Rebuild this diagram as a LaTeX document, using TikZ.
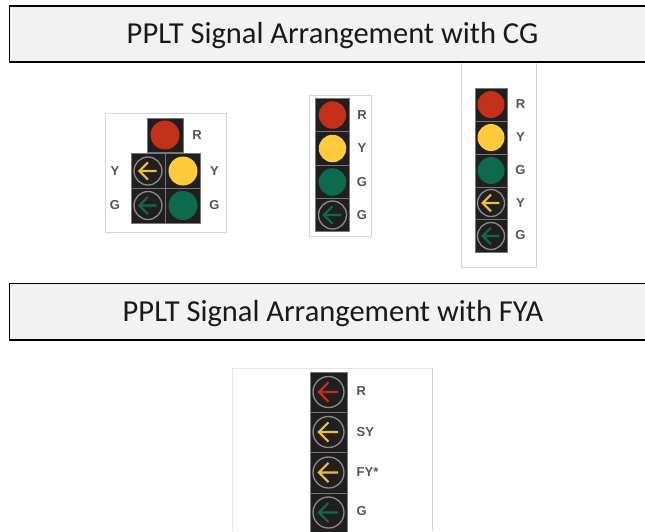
\documentclass[tikz,border=0pt]{standalone}
\usepackage{fontspec}
\setmainfont{Carlito}
\newfontfamily\signalfont{Liberation Sans}
\usepackage{tikz}
\usetikzlibrary{calc}

\definecolor{lensred}{HTML}{C2301A}
\definecolor{lensyellow}{HTML}{FFCB3D}
\definecolor{arrowyellow}{HTML}{EDBE3C}
\definecolor{lensgreen}{HTML}{0C6B4D}
\definecolor{housing}{HTML}{201E1E}
\definecolor{seam}{HTML}{77777A}
\definecolor{ringgray}{HTML}{8C8C8C}
\definecolor{bannerfill}{HTML}{F2F2F2}
\definecolor{framegray}{HTML}{D4D4D4}
\definecolor{labelgray}{HTML}{555558}

\tikzset{
	banner/.style={draw=black, line width=1.4pt, fill=bannerfill},
	bannertext/.style={font=\fontsize{30.5}{33}\selectfont, text=black!90, inner sep=0pt},
	panel/.style={draw=framegray, line width=0.9pt, fill=white},
	head/.style={draw=seam, line width=0.8pt, fill=housing},
	lens/.style={circle, inner sep=0pt, minimum size=#1},
	signallabel/.style={font=\signalfont\bfseries\fontsize{13}{14}\selectfont, text=labelgray, inner sep=0pt},
}

% arrow lens: name, centre, colour, radius of ring
\newcommand{\arrowlens}[4]{
	\node[lens=#4*2pt, draw=ringgray, line width=1.3pt] (#1) at (#2) {};
	\draw[#3, line width=2.2pt]
		($(#1)+(-0.62*#4,0)$) -- ($(#1)+(0.62*#4,0)$)
		($(#1)+(0*#4,-0.62*#4)$) -- ($(#1)+(-0.62*#4,0)$) -- ($(#1)+(0*#4,0.62*#4)$);
}

\begin{document}
\begin{tikzpicture}[x=1pt, y=-1pt]
	\useasboundingbox (0,0) rectangle (645,531);
	\fill[white] (0,0) rectangle (645,531);

	% image frames
	\draw[panel] (105,113) rectangle (226,232);
	\draw[panel] (309.5,95.5) rectangle (371,236);
	\draw[panel] (461.5,60) rectangle (536.5,267);
	\draw[panel, draw=framegray!60] (232.5,368) -- (432.5,368);
	\draw[panel] (432.5,368) -- (432.5,531);
	\draw[draw=framegray!60, line width=0.5pt] (232.5,368) -- (232.5,531);

	% banners
	\draw[banner] (9.5,6) rectangle (650,62);
	\node[bannertext] (titlecg) at (332.5,35.5) {PPLT Signal Arrangement with CG};
	\draw[banner] (9.5,283.5) rectangle (650,340);
	\node[bannertext] (titlefya) at (333,313.5) {PPLT Signal Arrangement with FYA};

	% doghouse
	\draw[head] (147.5,118) rectangle (183,152.5);
	\draw[head] (131,153) rectangle (200,223);
	\draw[seam, line width=0.6pt] (165.5,153) -- (165.5,223) (131,188) -- (200,188);
	\node[lens=29pt, fill=lensred] (dogr) at (165,135) {};
	\arrowlens{dogya}{148,171}{arrowyellow}{14}
	\node[lens=29pt, fill=lensyellow] (dogy) at (183,171) {};
	\arrowlens{dogga}{148,205.5}{lensgreen}{14}
	\node[lens=29pt, fill=lensgreen] (dogg) at (183,205.5) {};
	\node[signallabel] (doglr) at (197,135.5) {R};
	\node[signallabel] (doglya) at (115,171) {Y};
	\node[signallabel] (dogly) at (214.5,171) {Y};
	\node[signallabel] (doglga) at (115,205.5) {G};
	\node[signallabel] (doglg) at (214.5,205.5) {G};

	% four section vertical
	\draw[head] (315.5,98.5) rectangle (349.5,231.5);
	\foreach \y in {131.5,165,198.5}
		\draw[seam, line width=0.8pt] (315.5,\y) -- (349.5,\y);
	\node[lens=27.5pt, fill=lensred] (fourr) at (332.5,115) {};
	\node[lens=27.5pt, fill=lensyellow] (foury) at (332.5,148.5) {};
	\node[lens=27.5pt, fill=lensgreen] (fourg) at (332.5,182) {};
	\arrowlens{fourga}{332.5,215}{lensgreen}{14}
	\foreach \y/\t [count=\i] in {115/R,148.5/Y,182/G,215/G}
		\node[signallabel] (fourl\i) at (362,\y) {\t};

	% five section vertical
	\draw[head] (475,88.5) rectangle (507.5,252.5);
	\foreach \y in {121,154,187,219.5}
		\draw[seam, line width=0.8pt] (475,\y) -- (507.5,\y);
	\node[lens=27pt, fill=lensred] (fiver) at (491,104.5) {};
	\node[lens=27pt, fill=lensyellow] (fivey) at (491,137.5) {};
	\node[lens=27pt, fill=lensgreen] (fiveg) at (491,170.5) {};
	\arrowlens{fiveya}{491,203}{arrowyellow}{13.5}
	\arrowlens{fivega}{491,236}{lensgreen}{13.5}
	\foreach \y/\t [count=\i] in {104/R,137/Y,170/G,203/Y,235.5/G}
		\node[signallabel] (fivel\i) at (520.5,\y) {\t};

	% flashing yellow arrow
	\draw[head] (310.5,372.5) rectangle (347,535);
	\foreach \y in {412,452.5,493}
		\draw[seam, line width=0.8pt] (310.5,\y) -- (347,\y);
	\arrowlens{fyar}{328.5,392}{lensred}{15.5}
	\arrowlens{fyasy}{328.5,432}{arrowyellow}{15.5}
	\arrowlens{fyafy}{328.5,472.5}{arrowyellow}{15.5}
	\arrowlens{fyag}{328.5,512.5}{lensgreen}{15.5}
	\foreach \y/\t [count=\i] in {391.5/R,432/SY,472/FY*,511.5/G}
		\node[signallabel, anchor=west] (fyal\i) at (356.5,\y) {\t};
\end{tikzpicture}
\end{document}
